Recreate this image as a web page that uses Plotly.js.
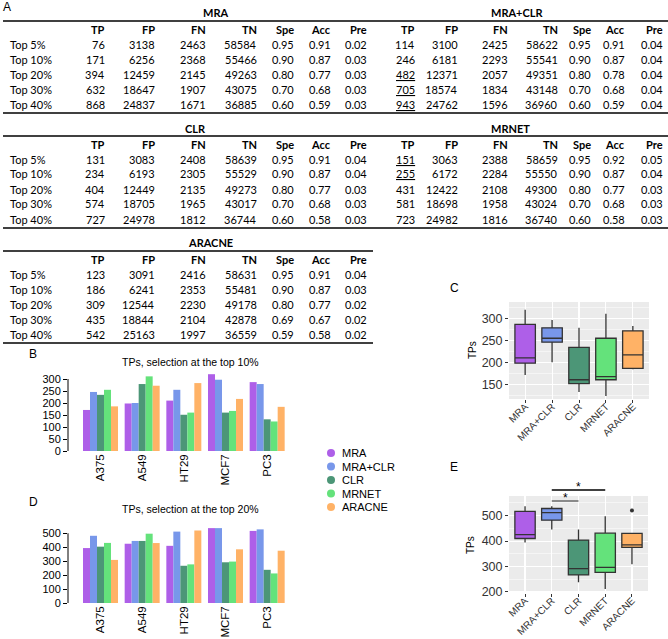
<!DOCTYPE html>
<html>
<head>
<meta charset="utf-8">
<script src="https://cdn.plot.ly/plotly-3.0.1.min.js"></script>
<style>body{margin:0;background:#fff}</style>
</head>
<body>
<div id="fig" style="width:668px;height:639px"></div>
<script>
// ---- data ----
const cellLines = ['A375', 'A549', 'HT29', 'MCF7', 'PC3'];
const methods = ['MRA', 'MRA+CLR', 'CLR', 'MRNET', 'ARACNE'];
const methodColors = ['#AE5FE8', '#7897EA', '#4C9677', '#64E27B', '#FFB266'];

// TPs per cell line, selection at the top 10%
const top10MRA = [171, 198, 210, 320, 287];
const top10MRACLR = [246, 200, 255, 297, 279];
const top10CLR = [234, 279, 151, 160, 132];
const top10MRNET = [255, 311, 160, 167, 123];
const top10ARACNE = [186, 272, 283, 217, 184];

// TPs per cell line, selection at the top 20%
const top20MRA = [394, 425, 410, 537, 517];
const top20MRACLR = [482, 445, 512, 537, 528];
const top20CLR = [404, 445, 267, 292, 238];
const top20MRNET = [431, 497, 277, 297, 212];
const top20ARACNE = [309, 430, 520, 385, 375];

const barTicks10 = [0, 50, 100, 150, 200, 250, 300];
const barTicks20 = [0, 100, 200, 300, 400, 500];

// tables (A): TP, FP, FN, TN, Spe, Acc, Pre
const rowNames = ['Top 5%', 'Top 10%', 'Top 20%', 'Top 30%', 'Top 40%'];
const colNames = ['TP', 'FP', 'FN', 'TN', 'Spe', 'Acc', 'Pre'];
const mraTable = [
  [76, 3138, 2463, 58584, 0.95, 0.91, 0.02],
  [171, 6256, 2368, 55466, 0.90, 0.87, 0.03],
  [394, 12459, 2145, 49263, 0.80, 0.77, 0.03],
  [632, 18647, 1907, 43075, 0.70, 0.68, 0.03],
  [868, 24837, 1671, 36885, 0.60, 0.59, 0.03]
];
const mraClrTable = [
  [114, 3100, 2425, 58622, 0.95, 0.91, 0.04],
  [246, 6181, 2293, 55541, 0.90, 0.87, 0.04],
  [482, 12371, 2057, 49351, 0.80, 0.78, 0.04],
  [705, 18574, 1834, 43148, 0.70, 0.68, 0.04],
  [943, 24762, 1596, 36960, 0.60, 0.59, 0.04]
];
const clrTable = [
  [131, 3083, 2408, 58639, 0.95, 0.91, 0.04],
  [234, 6193, 2305, 55529, 0.90, 0.87, 0.04],
  [404, 12449, 2135, 49273, 0.80, 0.77, 0.03],
  [574, 18705, 1965, 43017, 0.70, 0.68, 0.03],
  [727, 24978, 1812, 36744, 0.60, 0.58, 0.03]
];
const mrnetTable = [
  [151, 3063, 2388, 58659, 0.95, 0.92, 0.05],
  [255, 6172, 2284, 55550, 0.90, 0.87, 0.04],
  [431, 12422, 2108, 49300, 0.80, 0.77, 0.03],
  [581, 18698, 1958, 43024, 0.70, 0.68, 0.03],
  [723, 24982, 1816, 36740, 0.60, 0.58, 0.03]
];
const aracneTable = [
  [123, 3091, 2416, 58631, 0.95, 0.91, 0.04],
  [186, 6241, 2353, 55481, 0.90, 0.87, 0.03],
  [309, 12544, 2230, 49178, 0.80, 0.77, 0.02],
  [435, 18844, 2104, 42878, 0.69, 0.67, 0.02],
  [542, 25163, 1997, 36559, 0.59, 0.58, 0.02]
];
// TP cells underlined in the original
const underlinedTP = { 'MRA+CLR': [2, 3, 4], 'MRNET': [0, 1] };

// ---- helpers: pixel -> paper ----
const W = 668, H = 639;
const px = x => x / W;
const py = y => 1 - y / H;
const sans = 'Liberation Sans, Arial, sans-serif';
const tableFont = 'Lato, Carlito, sans-serif';

const annotations = [];
const shapes = [];
function txt(x, y, text, opts) {
  annotations.push(Object.assign({
    xref: 'paper', yref: 'paper', x: px(x), y: py(y), text: text,
    showarrow: false, xanchor: 'left', yanchor: 'middle',
    font: { family: tableFont, size: 11, color: '#000' }
  }, opts || {}));
}
function hline(x0, x1, y, w, color) {
  shapes.push({ type: 'line', xref: 'paper', yref: 'paper',
    x0: px(x0), x1: px(x1), y0: py(y), y1: py(y),
    line: { color: color || '#000', width: w || 1.5 } });
}

// ---- tables ----
const leftCols = [107, 157, 208, 259, 296, 333, 369];
const rightCols = [417, 460, 510, 560, 593, 627, 665];
const tables = [
  { name: 'MRA', rows: mraTable, cols: leftCols, top: 13, titleX: 215, x0: 3, x1: 373, labels: true },
  { name: 'MRA+CLR', rows: mraClrTable, cols: rightCols, top: 13, titleX: 517, x0: 373, x1: 668 },
  { name: 'CLR', rows: clrTable, cols: leftCols, top: 128, titleX: 195, x0: 3, x1: 373, labels: true },
  { name: 'MRNET', rows: mrnetTable, cols: rightCols, top: 128, titleX: 510, x0: 373, x1: 668 },
  { name: 'ARACNE', rows: aracneTable, cols: leftCols, top: 243, titleX: 210, x0: 3, x1: 373, labels: true }
];
tables.forEach(t => {
  txt(t.titleX, t.top, '<b>' + t.name + '</b>', { xanchor: 'center' });
  hline(t.x0, t.x1, t.top + 8);
  colNames.forEach((c, j) => txt(t.cols[j], t.top + 16.5, '<b>' + c + '</b>', { xanchor: 'right' }));
  t.rows.forEach((r, i) => {
    const y = t.top + 31 + 15 * i;
    if (t.labels) txt(8, y, rowNames[i]);
    r.forEach((v, j) => {
      let s = j < 4 ? String(v) : v.toFixed(2);
      if (j === 0 && (underlinedTP[t.name] || []).includes(i)) s = '<u>' + s + '</u>';
      txt(t.cols[j], y, s, { xanchor: 'right' });
    });
  });
  hline(t.x0, t.x1, t.top + 100);
});

// ---- panel letters and titles ----
const letter = { family: sans, size: 12, color: '#000' };
txt(1, 7, 'A', { font: letter });
txt(33, 354, 'B', { xanchor: 'center', font: letter });
txt(33, 502, 'D', { xanchor: 'center', font: letter });
txt(454, 288, 'C', { xanchor: 'center', font: letter });
txt(454, 467, 'E', { xanchor: 'center', font: letter });
txt(190, 362, 'TPs, selection at the top 10%', { xanchor: 'center', font: { family: sans, size: 10.5, color: '#000' } });
txt(190, 509, 'TPs, selection at the top 20%', { xanchor: 'center', font: { family: sans, size: 10.5, color: '#000' } });
txt(472, 350, 'TPs', { xanchor: 'center', textangle: -90, font: { family: sans, size: 10, color: '#000' } });
txt(470, 545, 'TPs', { xanchor: 'center', textangle: -90, font: { family: sans, size: 10, color: '#000' } });

// ---- legend (dots + names) ----
methods.forEach((m, i) => {
  const yc = 453 + 13.5 * i;
  shapes.push({ type: 'circle', xref: 'paper', yref: 'paper',
    x0: px(327), x1: px(335), y0: py(yc + 4), y1: py(yc - 4),
    fillcolor: methodColors[i], line: { width: 0 } });
  txt(340, yc, m, { font: { family: sans, size: 11, color: '#000' } });
});

// ---- traces ----
const top10 = [top10MRA, top10MRACLR, top10CLR, top10MRNET, top10ARACNE];
const top20 = [top20MRA, top20MRACLR, top20CLR, top20MRNET, top20ARACNE];
const traces = [];
methods.forEach((m, i) => {
  traces.push({ type: 'bar', name: m, x: cellLines, y: top10[i], xaxis: 'x', yaxis: 'y',
    marker: { color: methodColors[i], line: { width: 0 } } });
  traces.push({ type: 'bar', name: m, x: cellLines, y: top20[i], xaxis: 'x2', yaxis: 'y2',
    marker: { color: methodColors[i], line: { width: 0 } } });
});
[[top10, 'x3', 'y3'], [top20, 'x4', 'y4']].forEach(([set, xa, ya]) => {
  methods.forEach((m, i) => {
    traces.push({ type: 'box', name: m, x: set[i].map(() => m), y: set[i], xaxis: xa, yaxis: ya,
      fillcolor: methodColors[i], line: { color: '#333333', width: 1.3 },
      marker: { color: '#333333', size: 4 }, boxpoints: 'outliers',
      quartilemethod: 'inclusive', width: 0.76, whiskerwidth: 0 });
  });
});

// ---- axes ----
function barX(x0, x1, anchor) {
  return { domain: [px(x0), px(x1)], anchor: anchor, range: [-0.78, 4.5], type: 'category',
    showline: false, showgrid: false, zeroline: false, ticks: '', tickangle: -90,
    tickfont: { family: sans, size: 11.5, color: '#000' } };
}
function barY(yTop, yBottom, range, ticks, anchor) {
  return { domain: [py(yBottom), py(yTop)], anchor: anchor, range: range, tickvals: ticks,
    showline: false, showgrid: false, zeroline: false, ticks: 'outside', ticklen: 4,
    tickcolor: '#000', tickwidth: 1, tickfont: { family: sans, size: 11, color: '#000' } };
}
function boxX(x0, x1, anchor) {
  return { domain: [px(x0), px(x1)], anchor: anchor, type: 'category',
    categoryorder: 'array', categoryarray: methods, range: [-0.6, 4.6],
    showline: false, zeroline: false, showgrid: true, gridcolor: '#fff', gridwidth: 1.1,
    ticks: 'outside', ticklen: 3, tickcolor: '#333', tickangle: -45, ticklabelstandoff: -6,
    tickfont: { family: sans, size: 10, color: '#333' } };
}
function boxY(yTop, yBottom, range, dtick, anchor) {
  return { domain: [py(yBottom), py(yTop)], anchor: anchor, range: range, dtick: dtick, tick0: 0,
    showline: false, zeroline: false, showgrid: true, gridcolor: '#fff', gridwidth: 1.1,
    minor: { dtick: dtick / 2, showgrid: true, gridcolor: '#fff', gridwidth: 0.5 },
    ticks: 'outside', ticklen: 3, tickcolor: '#333',
    tickfont: { family: sans, size: 12.5, color: '#333' } };
}

// R-style y axis lines that stop at the first and last tick
shapes.push({ type: 'line', xref: 'paper', yref: 'y', x0: px(68), x1: px(68),
  y0: barTicks10[0], y1: barTicks10[barTicks10.length - 1], line: { color: '#000', width: 1 } });
shapes.push({ type: 'line', xref: 'paper', yref: 'y2', x0: px(68), x1: px(68),
  y0: barTicks20[0], y1: barTicks20[barTicks20.length - 1], line: { color: '#000', width: 1 } });

// ggplot grey panels
['x3', 'x4'].forEach((xa, k) => {
  const ya = k ? 'y4' : 'y3';
  shapes.push({ type: 'rect', xref: xa + ' domain', yref: ya + ' domain', x0: 0, x1: 1, y0: 0, y1: 1,
    fillcolor: '#EBEBEB', line: { width: 0 }, layer: 'below' });
});

// significance brackets on E (MRA+CLR vs CLR, MRA+CLR vs MRNET)
const eX0 = 509, eX1 = 648, eRange = [-0.6, 4.6];
const catX = idx => eX0 + (idx - eRange[0]) / (eRange[1] - eRange[0]) * (eX1 - eX0);
const signif = [[1, 3, 490, '#000'], [1, 2, 501, '#555']];
signif.forEach(([a, b, y, c]) => {
  hline(catX(a), catX(b), y, 1.3, c);
  txt((catX(a) + catX(b)) / 2, y - 3, '*', { xanchor: 'center', font: { family: sans, size: 12, color: '#000' } });
});

const layout = {
  width: W, height: H, margin: { l: 0, r: 0, t: 0, b: 0 },
  paper_bgcolor: '#fff', plot_bgcolor: 'rgba(0,0,0,0)', showlegend: false,
  barmode: 'group', bargap: 0.16, bargroupgap: 0,
  font: { family: sans, color: '#000' },
  xaxis: barX(68, 288, 'y'),
  yaxis: barY(373, 451, [0, 325], barTicks10, 'x'),
  xaxis2: barX(68, 288, 'y2'),
  yaxis2: barY(527, 603, [0, 545], barTicks20, 'x2'),
  xaxis3: boxX(509, 649, 'y3'),
  yaxis3: boxY(302, 399, [116, 338], 50, 'x3'),
  xaxis4: boxX(eX0, eX1, 'y4'),
  yaxis4: boxY(496, 593, [196, 577], 100, 'x4'),
  annotations: annotations,
  shapes: shapes
};

Plotly.newPlot('fig', traces, layout, { staticPlot: true });
</script>
</body>
</html>
